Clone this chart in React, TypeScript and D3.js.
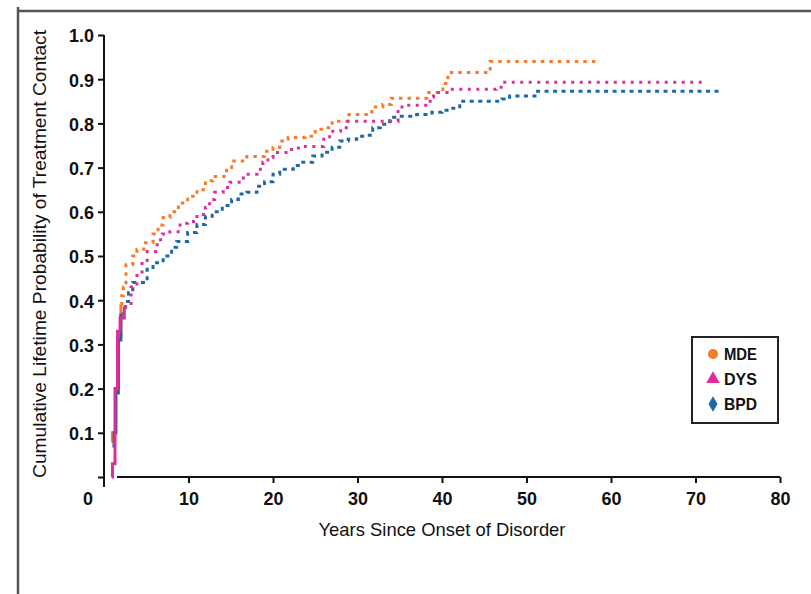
import React, { useEffect, useRef } from "react";
import * as d3 from "d3";

// Kaplan-Meier style cumulative probability of treatment contact
const mdeYears = [0.9, 1.0, 1.4, 1.7, 2.0, 2.1, 2.3, 2.6, 3.4, 3.9, 4.7, 5.8, 6.4, 7.0, 7.8, 8.8, 9.9, 11, 12, 12.9, 14.5, 15.1, 16.9, 19, 20, 20.8, 21.8, 23.8, 25, 26, 27, 29, 31.7, 33, 34, 38.2, 40.1, 40.7, 45.7, 58.3];
const mdeProb = [0.08, 0.1, 0.2, 0.32, 0.39, 0.41, 0.43, 0.48, 0.5, 0.515, 0.53, 0.55, 0.57, 0.587, 0.6, 0.62, 0.635, 0.65, 0.67, 0.68, 0.7, 0.715, 0.725, 0.737, 0.746, 0.76, 0.768, 0.771, 0.787, 0.79, 0.805, 0.82, 0.837, 0.843, 0.857, 0.87, 0.89, 0.915, 0.94, 0.94];

const dysYears = [0.9, 1.0, 1.3, 1.6, 1.9, 2.4, 3.2, 3.9, 4.5, 5.1, 6.3, 6.9, 7.8, 9, 9.9, 11, 12, 12.5, 13.1, 14.1, 14.9, 16.5, 18.1, 18.8, 19.4, 20, 21.8, 23, 26, 26.7, 28, 28.9, 34.8, 35.6, 38.6, 39, 40.6, 46.4, 47, 71];
const dysProb = [0.0, 0.03, 0.2, 0.33, 0.36, 0.385, 0.43, 0.46, 0.49, 0.51, 0.537, 0.55, 0.555, 0.574, 0.578, 0.594, 0.61, 0.628, 0.644, 0.655, 0.667, 0.685, 0.696, 0.712, 0.723, 0.734, 0.741, 0.748, 0.764, 0.782, 0.79, 0.805, 0.837, 0.841, 0.86, 0.87, 0.877, 0.882, 0.893, 0.893];

const bpdYears = [1.0, 1.2, 1.4, 1.7, 2.0, 2.5, 2.9, 3.4, 5.1, 5.8, 7, 8, 8.6, 9.9, 11, 12, 12.8, 14, 15.1, 15.9, 16.9, 18.1, 19, 20, 20.8, 22.4, 23, 24.7, 25.8, 27, 27.9, 28.9, 29.9, 30.9, 31.8, 32.7, 33.8, 34.8, 37, 38.8, 40, 41, 42.1, 47.1, 48, 51, 73];
const bpdProb = [0.07, 0.1, 0.19, 0.31, 0.37, 0.397, 0.417, 0.44, 0.47, 0.485, 0.5, 0.52, 0.533, 0.553, 0.571, 0.59, 0.6, 0.614, 0.628, 0.64, 0.644, 0.658, 0.668, 0.685, 0.696, 0.705, 0.712, 0.726, 0.735, 0.746, 0.76, 0.764, 0.771, 0.773, 0.79, 0.798, 0.814, 0.816, 0.82, 0.825, 0.83, 0.834, 0.85, 0.855, 0.862, 0.873, 0.873];

const xTicks = [10, 20, 30, 40, 50, 60, 70, 80];
const yTicks = [0, 0.1, 0.2, 0.3, 0.4, 0.5, 0.6, 0.7, 0.8, 0.9, 1.0];
const legendLabels = ["MDE", "DYS", "BPD"];

const FONT = "'Liberation Sans', Arial, Helvetica, sans-serif";

export default function App() {
  const ref = useRef<SVGSVGElement>(null);

  useEffect(() => {
    const svg = d3.select(ref.current);
    svg.selectAll("*").remove();

    const x = d3.scaleLinear().domain([0, 80]).range([104, 780]);
    const y = d3.scaleLinear().domain([0, 1]).range([477, 35]);

    // figure frame (left and top rules)
    svg.append("line").attr("x1", 18).attr("x2", 18).attr("y1", 7).attr("y2", 594)
      .attr("stroke", "#555").attr("stroke-width", 2.5);
    svg.append("line").attr("x1", 17).attr("x2", 811).attr("y1", 11).attr("y2", 11)
      .attr("stroke", "#555").attr("stroke-width", 2.5);

    // y axis
    const gy = svg.append("g").attr("transform", "translate(104,0)")
      .call(d3.axisLeft(y).tickValues(yTicks).tickSize(6)
        .tickFormat((d: any) => (d === 0 ? "" : d3.format(".1f")(d))));
    gy.select(".domain").remove();
    gy.append("line").attr("x1", 0).attr("x2", 0).attr("y1", y(1)).attr("y2", 487)
      .attr("stroke", "#111").attr("stroke-width", 2);
    gy.selectAll(".tick line").attr("stroke", "#111").attr("stroke-width", 2);
    gy.selectAll(".tick text").attr("x", -10).attr("dy", "0.36em")
      .style("font-family", FONT).style("font-size", "19px").style("font-weight", "bold")
      .attr("textLength", 25).attr("lengthAdjust", "spacingAndGlyphs").attr("fill", "#111");

    // x axis
    const gx = svg.append("g").attr("transform", "translate(0,477)")
      .call(d3.axisBottom(x).tickValues(xTicks).tickSize(6).tickFormat(d3.format("d")));
    gx.select(".domain").remove();
    gx.append("line").attr("x1", 117).attr("x2", x(80)).attr("y1", 0).attr("y2", 0)
      .attr("stroke", "#111").attr("stroke-width", 2);
    gx.selectAll(".tick line").attr("stroke", "#111").attr("stroke-width", 2);
    gx.selectAll(".tick text").attr("y", 15)
      .style("font-family", FONT).style("font-size", "19px").style("font-weight", "bold")
      .attr("textLength", 20).attr("lengthAdjust", "spacingAndGlyphs").attr("fill", "#111");
    gx.append("text").attr("x", x(0) - 16).attr("y", 15).attr("dy", "0.71em")
      .attr("text-anchor", "middle").attr("fill", "#111")
      .style("font-family", FONT).style("font-size", "19px").style("font-weight", "bold")
      .attr("textLength", 10).attr("lengthAdjust", "spacingAndGlyphs").text("0");

    // axis titles
    svg.append("text").attr("x", 442).attr("y", 536).attr("text-anchor", "middle")
      .attr("textLength", 247).attr("lengthAdjust", "spacingAndGlyphs")
      .style("font-family", FONT).style("font-size", "19px").attr("fill", "#111")
      .text("Years Since Onset of Disorder");
    svg.append("text").attr("transform", "translate(46,254) rotate(-90)").attr("text-anchor", "middle")
      .attr("textLength", 448).attr("lengthAdjust", "spacingAndGlyphs")
      .style("font-family", FONT).style("font-size", "19px").attr("fill", "#111")
      .text("Cumulative Lifetime Probability of Treatment Contact");

    const series = [
      { name: "MDE", years: mdeYears, prob: mdeProb, color: "#f47c2a", dash: "3.5 5" },
      { name: "BPD", years: bpdYears, prob: bpdProb, color: "#1f68a6", dash: "4 4.5" },
      { name: "DYS", years: dysYears, prob: dysProb, color: "#dc2d9b", dash: "3 5.5" },
    ];

    const line = d3.line<[number, number]>()
      .x(d => x(d[0])).y(d => y(d[1])).curve(d3.curveStepAfter);

    // dotted steps after the first two years
    series.forEach(s => {
      const pts: [number, number][] = s.years.map((t, i) => [t, s.prob[i]]);
      const cut = pts.findIndex(p => p[0] >= 2.0);
      svg.append("path").datum(pts.slice(cut)).attr("d", line)
        .attr("fill", "none").attr("stroke", s.color).attr("stroke-width", 3)
        .attr("stroke-dasharray", s.dash);
    });
    // solid steep early rise
    series.forEach(s => {
      const pts: [number, number][] = s.years.map((t, i) => [t, s.prob[i]]);
      const cut = pts.findIndex(p => p[0] >= 2.0);
      svg.append("path").datum(pts.slice(0, cut + 1)).attr("d", line)
        .attr("fill", "none").attr("stroke", s.color).attr("stroke-width", 3);
    });

    // legend
    const lg = svg.append("g");
    lg.append("rect").attr("x", 692).attr("y", 337).attr("width", 86).attr("height", 86)
      .attr("fill", "white").attr("stroke", "#222").attr("stroke-width", 2);
    const legendColors = ["#f47c2a", "#dc2d9b", "#1f68a6"];
    const shapes = [d3.symbolCircle, d3.symbolTriangle, d3.symbolDiamond];
    legendLabels.forEach((lab, i) => {
      const cy = 354 + i * 25;
      lg.append("path").attr("transform", `translate(713,${cy})`)
        .attr("d", d3.symbol().type(shapes[i]).size(i === 2 ? 70 : 80)())
        .attr("fill", legendColors[i]);
      lg.append("text").attr("x", 724).attr("y", cy).attr("dy", "0.36em")
        .style("font-family", FONT).style("font-size", "17px").style("font-weight", "bold")
        .attr("textLength", 33).attr("lengthAdjust", "spacingAndGlyphs")
        .attr("fill", "#111").text(lab);
    });
  }, []);

  return (
    <svg ref={ref} width={811} height={594}
      style={{ position: "absolute", left: 0, top: 0, background: "white" }} />
  );
}
